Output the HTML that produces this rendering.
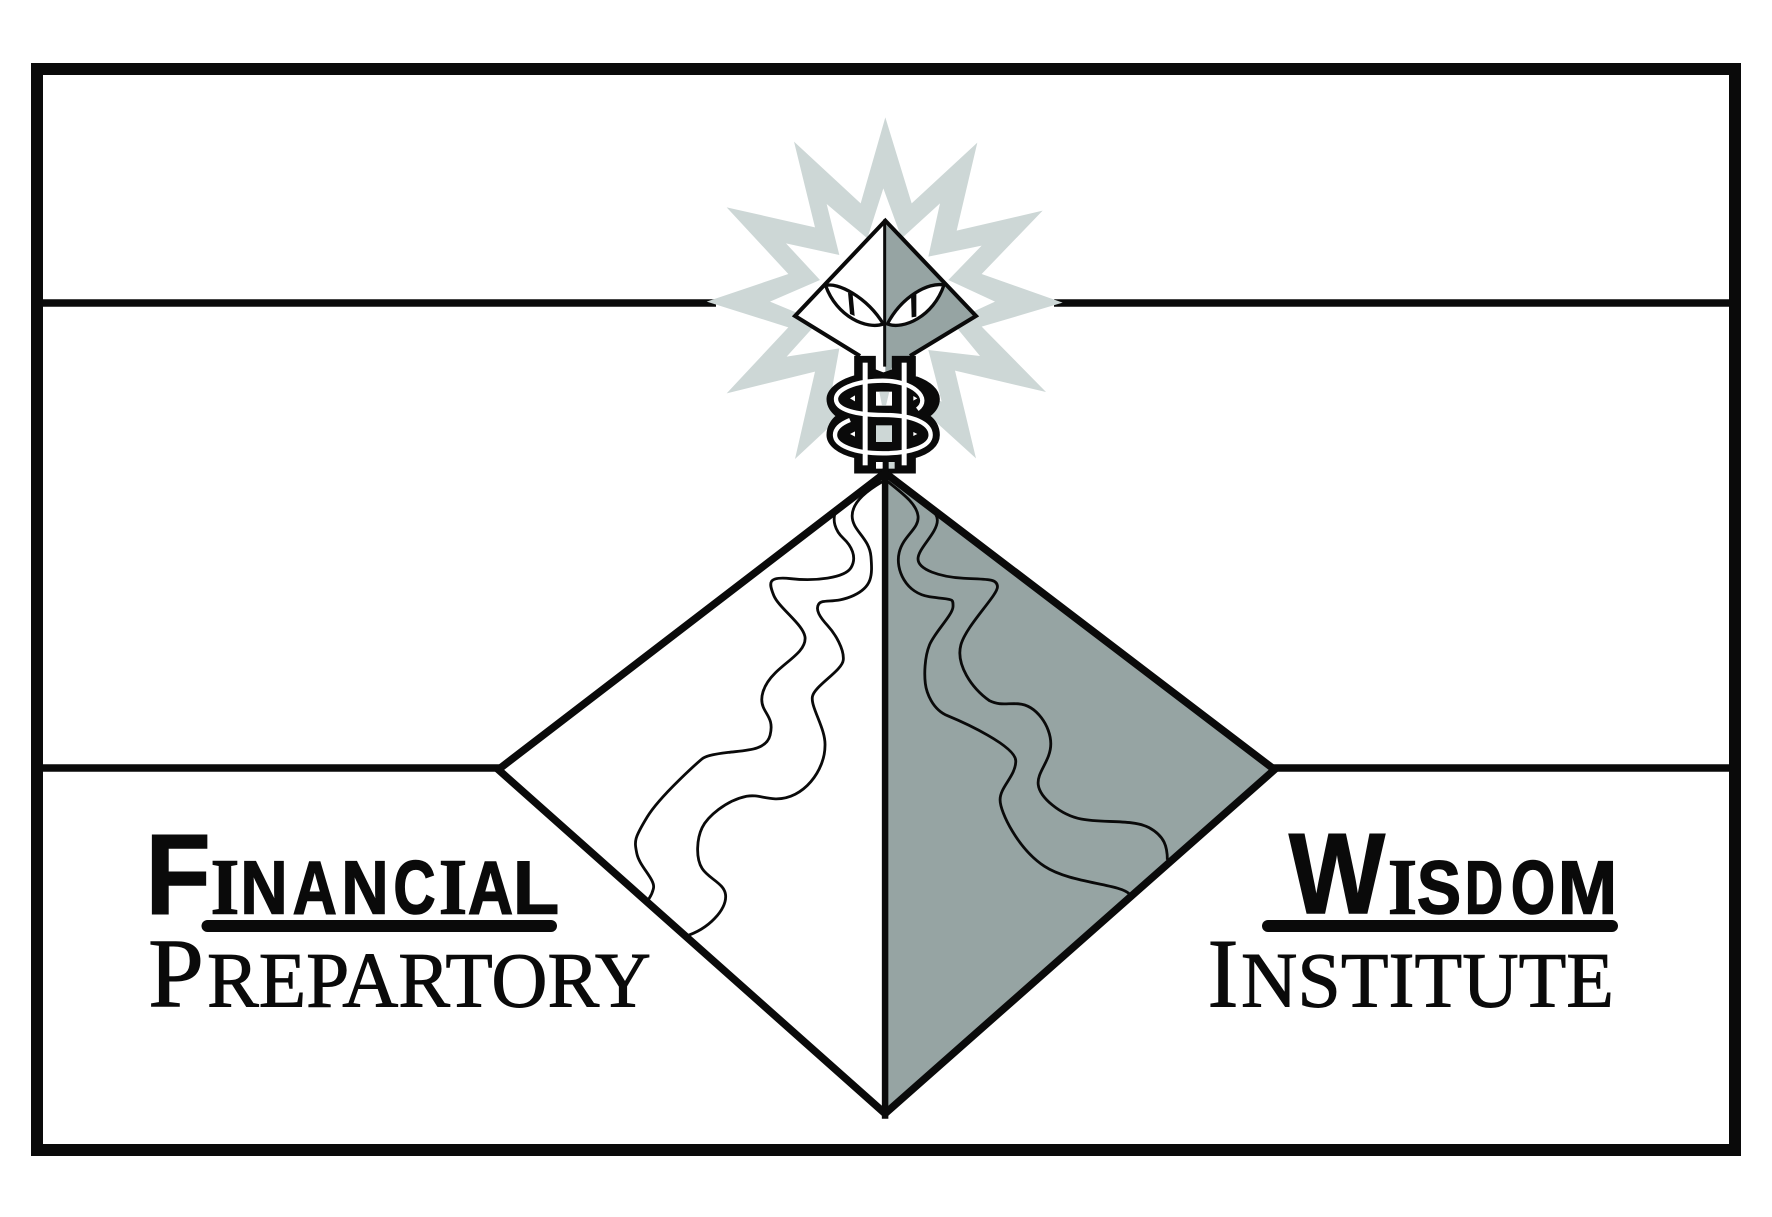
<!DOCTYPE html>
<html>
<head>
<meta charset="utf-8">
<style>
html,body{margin:0;padding:0;background:#fff;width:1772px;height:1217px;overflow:hidden}
svg{display:block}
.ss{font-family:"Liberation Sans",sans-serif;font-weight:700;fill:#0a0a0a;stroke:#0a0a0a;stroke-width:1.6px}
.sb{font-family:"Liberation Serif",serif;font-weight:700;fill:#0a0a0a;stroke:#0a0a0a;stroke-width:1.4px}
.sr{font-family:"Liberation Serif",serif;font-weight:400;fill:#0a0a0a;stroke:#0a0a0a;stroke-width:.9px}
</style>
</head>
<body>
<svg width="1772" height="1217" viewBox="0 0 1772 1217" xmlns="http://www.w3.org/2000/svg">
<rect width="1772" height="1217" fill="#fff"/>
<!-- frame -->
<rect x="37" y="69" width="1698" height="1081" fill="none" stroke="#0a0a0a" stroke-width="12"/>
<line x1="43" y1="303" x2="716" y2="303" stroke="#0a0a0a" stroke-width="7.5"/>
<line x1="1054" y1="303" x2="1729" y2="303" stroke="#0a0a0a" stroke-width="7.5"/>
<line x1="43" y1="768" x2="500" y2="768" stroke="#0a0a0a" stroke-width="7.5"/>
<line x1="1273" y1="768" x2="1729" y2="768" stroke="#0a0a0a" stroke-width="7.5"/>

<!-- star + pyramid -->
<g transform="translate(680 100) scale(.33333)">
<path fill="#cdd7d6" fill-rule="evenodd" d="M616 52L695 310L892 128L830 392L1088 332L905 522L1148 608L905 680L1098 876L825 812L888 1075L695 900L616 1150L535 900L345 1077L405 815L140 880L325 682L80 605L325 522L140 322L405 382L342 125L542 310Z M610 265L665 415L780 310L745 470L905 437L805 540L945 605L815 665L900 768L745 750L785 905L690 860L610 950L535 860L450 900L478 745L320 770L415 665L270 605L420 540L318 430L478 465L440 312L562 415Z"/>
<path fill="#fff" d="M616 362L345 648L540 768L545 800L616 830Z"/>
<path fill="#96a4a3" d="M616 362L888 648L690 768L650 772L630 815L616 815Z"/>
<path fill="none" stroke="#0a0a0a" stroke-width="12" stroke-linejoin="miter" d="M540 768L345 648L616 362L888 648L690 768"/>
<line x1="614" y1="358" x2="614" y2="800" stroke="#0a0a0a" stroke-width="9"/>
<path fill="#fff" stroke="#0a0a0a" stroke-width="10" d="M437 557C470 545 560 590 610 672C560 690 470 650 437 557Z"/>
<path fill="#fff" stroke="#0a0a0a" stroke-width="10" d="M792 555C745 545 665 590 622 672C670 690 760 650 792 555Z"/>
<path fill="#0a0a0a" d="M504 578L518 584L524 648L510 642Z"/>
<path fill="#0a0a0a" d="M693 584L709 578L709 650L695 652Z"/>
</g>

<!-- dollar -->
<g transform="translate(800 340) scale(.33333)">
<path fill="#0a0a0a" stroke="#0a0a0a" stroke-width="5" d="M165 50H225V90L250 100L278 90V50H345V110C390 125 417 150 417 177C417 200 405 215 388 228C405 240 417 260 417 285C417 315 390 340 345 352V398H165V352C115 340 82 315 82 285C82 260 95 240 110 228C95 215 82 200 82 177C82 150 115 122 165 108Z"/>
<path fill="none" stroke="#fff" stroke-width="13" d="M352 208C395 175 340 122 248 122C160 122 108 150 108 177C108 210 170 225 250 225C340 225 392 250 392 285C392 320 330 340 248 340C160 340 105 315 105 285C105 265 125 250 150 240"/>
<rect x="188" y="68" width="15" height="308" fill="#fff"/>
<rect x="305" y="68" width="15" height="308" fill="#fff"/>
<rect x="228" y="155" width="48" height="42" fill="#fff"/>
<path fill="#cdd7d6" d="M238 155H268L258 197H246Z" />
<rect x="228" y="256" width="48" height="50" fill="#cdd7d6"/>
<path fill="#fff" d="M165 166L150 175L165 184Z M165 274L150 282L165 290Z"/>
<path fill="#fff" d="M340 168L352 175L340 182Z M340 276L352 282L340 288Z"/>
<rect x="228" y="366" width="20" height="20" fill="#fff"/>
<rect x="266" y="366" width="18" height="20" fill="#cdd7d6"/>
</g>

<!-- big diamond -->
<g transform="translate(480 460) scale(.5227 .43)">
<path fill="#fff" d="M775 30L35 720L775 1520Z"/>
<path fill="#96a4a3" d="M775 30L1520 720L775 1520Z"/>
<path fill="none" stroke="#0a0a0a" vector-effect="non-scaling-stroke" style="stroke-width:7.5px" d="M775 30L35 720L775 1520L1520 720Z"/>
<line x1="775" y1="20" x2="775" y2="1532" stroke="#0a0a0a" vector-effect="non-scaling-stroke" style="stroke-width:6.5px"/>
<g fill="none" stroke="#0a0a0a" style="stroke-width:2.8px">
<path vector-effect="non-scaling-stroke" d="M682 115C672 140 680 165 695 182S722 225 710 250S640 282 595 276S552 285 562 315S622 385 622 415S590 465 565 495S535 555 542 575S562 605 555 640S510 675 475 680S430 690 425 695S345 780 320 830S295 885 300 915S335 975 332 995S318 1028 318 1028"/>
<path vector-effect="non-scaling-stroke" d="M770 50C745 68 712 95 712 130S745 180 748 225S750 295 715 315S655 322 648 335S650 365 665 385S697 440 695 465S640 525 636 550S662 625 660 665C660 720 620 790 565 788C540 786 530 778 510 782C470 792 435 830 425 855S412 925 425 950S470 985 470 1015S440 1090 392 1108"/>
<path vector-effect="non-scaling-stroke" d="M780 50C805 75 835 100 838 130S810 175 802 215S815 310 860 318S905 320 905 340S870 400 860 430S850 500 852 520S865 580 895 595S1025 665 1025 700S995 760 995 790S1030 905 1080 945S1225 985 1243 1010"/>
<path vector-effect="non-scaling-stroke" d="M795 45C825 75 875 110 875 140S838 205 838 230S880 272 925 275S990 275 990 295S930 385 920 430S940 530 975 560C995 572 1010 565 1030 567C1065 570 1092 620 1092 660S1065 725 1068 755S1110 825 1150 835S1250 835 1280 855S1315 900 1315 930"/>
</g>
</g>

<!-- Financial -->
<text class="ss" x="145.5" y="914" font-size="114" textLength="65" lengthAdjust="spacingAndGlyphs">F</text>
<text class="sb" x="210.7" y="913.5" font-size="79" textLength="28.4" lengthAdjust="spacingAndGlyphs">I</text>
<text class="ss" x="240.5" y="913.5" font-size="75" textLength="47" lengthAdjust="spacingAndGlyphs">N</text>
<text class="ss" x="292.7" y="913.5" font-size="75" textLength="44" lengthAdjust="spacingAndGlyphs">A</text>
<text class="ss" x="341.5" y="913.5" font-size="75" textLength="47" lengthAdjust="spacingAndGlyphs">N</text>
<text class="ss" x="393.5" y="913.5" font-size="75" textLength="42" lengthAdjust="spacingAndGlyphs">C</text>
<text class="sb" x="439" y="913.5" font-size="79" textLength="28" lengthAdjust="spacingAndGlyphs">I</text>
<text class="ss" x="468" y="913.5" font-size="75" textLength="45" lengthAdjust="spacingAndGlyphs">A</text>
<text class="ss" x="513" y="913.5" font-size="75" textLength="46" lengthAdjust="spacingAndGlyphs">L</text>
<rect x="201.5" y="920" width="355.5" height="12" rx="6" fill="#0a0a0a"/>
<!-- Prepartory -->
<text class="sr" x="148" y="1006.5" font-size="99" textLength="56" lengthAdjust="spacingAndGlyphs">P</text>
<text class="sr" x="207" y="1006.5" font-size="78" textLength="444" lengthAdjust="spacingAndGlyphs">REPARTORY</text>

<!-- Wisdom -->
<text class="ss" x="1289" y="913" font-size="114" textLength="96" lengthAdjust="spacingAndGlyphs">W</text>
<text class="sb" x="1388" y="913.5" font-size="79" textLength="29" lengthAdjust="spacingAndGlyphs">I</text>
<text class="ss" x="1417" y="913.5" font-size="75" textLength="44" lengthAdjust="spacingAndGlyphs">S</text>
<text class="ss" x="1465" y="913.5" font-size="75" textLength="38" lengthAdjust="spacingAndGlyphs">D</text>
<text class="ss" x="1511" y="913.5" font-size="75" textLength="44" lengthAdjust="spacingAndGlyphs">O</text>
<text class="ss" x="1558" y="913.5" font-size="75" textLength="59" lengthAdjust="spacingAndGlyphs">M</text>
<rect x="1262" y="920" width="356" height="12" rx="6" fill="#0a0a0a"/>
<!-- Institute -->
<text class="sr" x="1207.5" y="1006.5" font-size="99" textLength="31" lengthAdjust="spacingAndGlyphs">I</text>
<text class="sr" x="1241" y="1006.5" font-size="78" textLength="373" lengthAdjust="spacingAndGlyphs">NSTITUTE</text>
</svg>
</body>
</html>
